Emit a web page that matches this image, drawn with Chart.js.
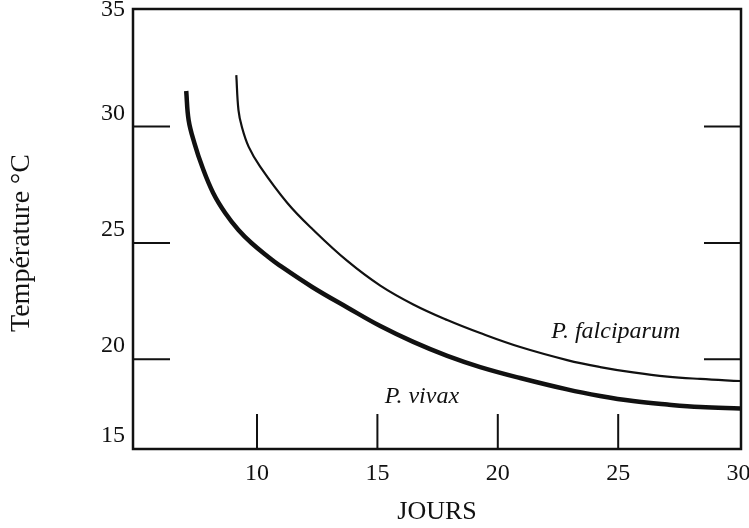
<!DOCTYPE html>
<html>
<head>
<meta charset="utf-8">
<script src="https://cdn.jsdelivr.net/npm/chart.js@4.4.1/dist/chart.umd.min.js"></script>
<style>
  html, body { margin: 0; padding: 0; background: #fff; }
</style>
</head>
<body>
<canvas id="chart" width="749" height="528"></canvas>
<script>
// valeurs (JOURS en x, température en y)
const vivaxJours = [7.06, 7.16, 7.40, 7.73, 8.18, 8.68, 9.23, 9.77, 10.47, 10.92, 12.29, 13.75, 15.12, 16.49, 17.90, 19.27, 20.93, 22.88, 24.25, 25.62, 27.04, 28.41, 30.07];
const vivaxTemp = [31.53, 30.28, 29.29, 28.26, 27.15, 26.29, 25.56, 25.00, 24.40, 24.05, 23.11, 22.23, 21.43, 20.75, 20.15, 19.67, 19.20, 18.71, 18.43, 18.21, 18.06, 17.95, 17.89];
const falciJours = [9.14, 9.23, 9.37, 9.65, 10.13, 11.26, 12.34, 13.75, 15.12, 16.49, 17.90, 19.27, 20.93, 22.88, 24.25, 25.62, 27.04, 28.41, 30.07];
const falciTemp = [32.21, 30.71, 29.99, 29.14, 28.28, 26.72, 25.56, 24.23, 23.17, 22.36, 21.69, 21.13, 20.53, 19.97, 19.67, 19.44, 19.26, 19.16, 19.07];

const xTickValues = [10, 15, 20, 25, 30];
const xTickLabels = ["10", "15", "20", "25", "30"];
// sur l'original, le "15" est posé sur le bas du cadre
const yTickValues = [16.15, 20, 25, 30, 35];
const yTickLabels = ["15", "20", "25", "30", "35"];

const xInnerTicks = [10, 15, 20, 25];
const yInnerTicks = [20, 25, 30];

const especes = ["P. falciparum", "P. vivax"];
const especesX = [24.9, 16.85];
const especesY = [21.2, 18.4];

const titreY = "Température °C";

const serif = '"Liberation Serif", "Times New Roman", serif';
Chart.defaults.font.family = serif;
Chart.defaults.color = "#111";

// cadre, petites graduations intérieures, noms des courbes et titre vertical
const cadrePlugin = {
    id: "cadre",
    afterDatasetsDraw(chart) {
        const { ctx, chartArea: a, scales: { x, y } } = chart;
        ctx.save();
        ctx.strokeStyle = "#111";
        ctx.lineWidth = 2;
        ctx.beginPath();
        yInnerTicks.forEach(v => {
            const py = y.getPixelForValue(v);
            ctx.moveTo(a.left, py);
            ctx.lineTo(a.left + 37, py);
            ctx.moveTo(a.right - 37, py);
            ctx.lineTo(a.right, py);
        });
        xInnerTicks.forEach(v => {
            const px = x.getPixelForValue(v);
            ctx.moveTo(px, a.bottom);
            ctx.lineTo(px, a.bottom - 35);
        });
        ctx.stroke();

        ctx.lineWidth = 2.5;
        ctx.strokeRect(a.left, a.top, a.right - a.left, a.bottom - a.top);

        ctx.fillStyle = "#111";
        ctx.textAlign = "center";
        ctx.textBaseline = "middle";
        ctx.font = "italic 24px " + serif;
        especes.forEach((nom, i) => {
            ctx.fillText(nom, x.getPixelForValue(especesX[i]), y.getPixelForValue(especesY[i]));
        });

        ctx.font = "28px " + serif;
        ctx.translate(22, (a.top + a.bottom) / 2 + 14);
        ctx.rotate(-Math.PI / 2);
        ctx.fillText(titreY, 0, 0);
        ctx.restore();
    }
};

new Chart(document.getElementById("chart"), {
    type: "line",
    data: {
        datasets: [
            {
                label: "P. vivax",
                data: vivaxJours.map((j, i) => ({ x: j, y: vivaxTemp[i] })),
                borderColor: "#111",
                borderWidth: 4.5,
                pointRadius: 0,
                tension: 0.4
            },
            {
                label: "P. falciparum",
                data: falciJours.map((j, i) => ({ x: j, y: falciTemp[i] })),
                borderColor: "#111",
                borderWidth: 2.2,
                pointRadius: 0,
                tension: 0.4
            }
        ]
    },
    options: {
        responsive: false,
        animation: false,
        layout: { padding: { top: 9, right: 8, left: 0, bottom: 0 } },
        plugins: { legend: { display: false }, tooltip: { enabled: false } },
        scales: {
            x: {
                type: "linear",
                min: 4.85,
                max: 30.1,
                afterBuildTicks: s => { s.ticks = xTickValues.map(v => ({ value: v })); },
                afterFit: s => { s.height = 79; s.paddingLeft = 0; s.paddingRight = 0; },
                grid: { display: false, drawTicks: false },
                border: { display: false },
                ticks: {
                    autoSkip: false,
                    maxRotation: 0,
                    padding: 10,
                    font: { size: 24 },
                    callback: (v, i) => xTickLabels[i]
                },
                title: { display: true, text: "JOURS", font: { size: 26 }, padding: 0 }
            },
            y: {
                type: "linear",
                min: 16.15,
                max: 35.05,
                afterBuildTicks: s => { s.ticks = yTickValues.map(v => ({ value: v })); },
                afterFit: s => { s.width = 133; s.paddingTop = 0; s.paddingBottom = 0; },
                grid: { display: false, drawTicks: false },
                border: { display: false },
                ticks: {
                    padding: 8,
                    font: { size: 24, lineHeight: 1.1 },
                    // étiquettes légèrement au-dessus des graduations, sauf 35
                    callback: (v, i) => i === yTickLabels.length - 1 ? yTickLabels[i] : [yTickLabels[i], ""]
                }
            }
        }
    },
    plugins: [cadrePlugin]
});
</script>
</body>
</html>
